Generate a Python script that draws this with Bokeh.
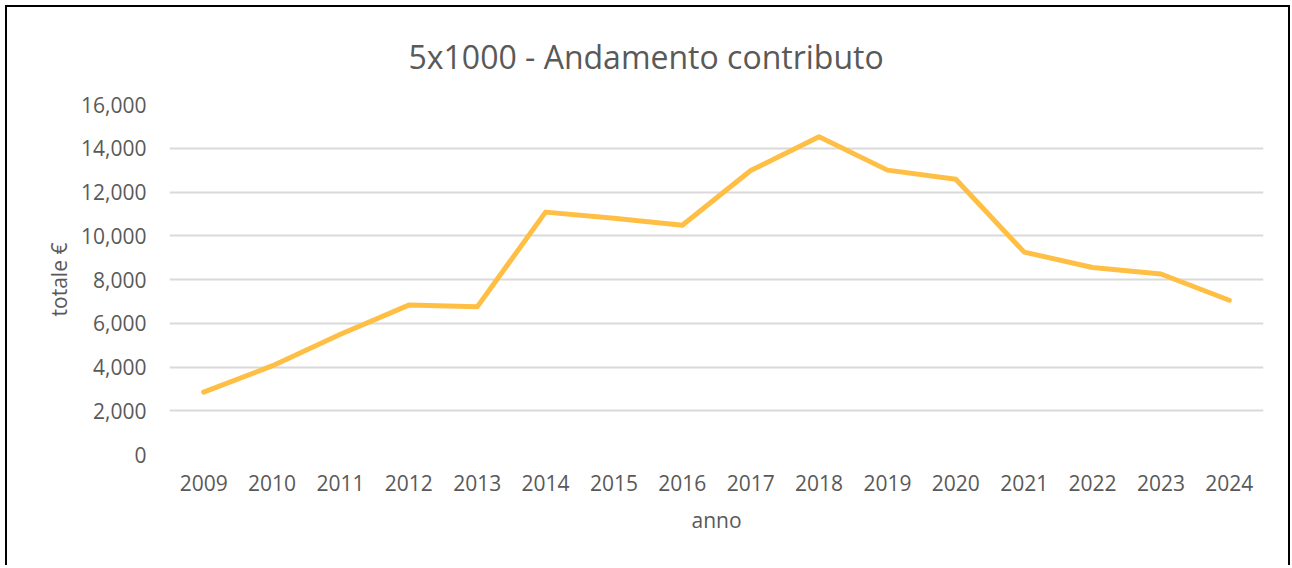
from bokeh.plotting import figure
from bokeh.models import FactorRange, Range1d, NumeralTickFormatter, FixedTicker
from bokeh.embed import file_html
from bokeh.resources import INLINE

years = ["2009", "2010", "2011", "2012", "2013", "2014", "2015", "2016",
         "2017", "2018", "2019", "2020", "2021", "2022", "2023", "2024"]
totals = [2850, 4050, 5500, 6830, 6750, 11080, 10800, 10480,
          12980, 14530, 13000, 12580, 9250, 8550, 8250, 7050]
y_ticks = [0, 2000, 4000, 6000, 8000, 10000, 12000, 14000, 16000]

FONT = "Open Sans"
TXT = "#595959"

p = figure(width=1285, height=560, x_range=FactorRange(*years, range_padding=0),
           y_range=Range1d(0, 16000), output_backend="svg", toolbar_location=None,
           title="5x1000 - Andamento contributo",
           min_border_left=162, min_border_right=29, min_border_top=97, min_border_bottom=113)

p.styles = {"border": "2px solid #000000", "border-bottom": "none",
            "position": "relative", "left": "5px", "top": "5px"}

p.line(years, totals, line_color="#FFBF45", line_width=5, line_join="round", line_cap="round")

p.title.text_font = FONT
p.title.text_font_size = "32px"
p.title.text_font_style = "normal"
p.title.text_color = TXT
p.title.align = "left"
p.title.offset = 239
p.title.vertical_align = "top"
p.title.standoff = 50

p.outline_line_color = None
p.xgrid.grid_line_color = None
p.ygrid.grid_line_color = "#D9D9D9"
p.ygrid.grid_line_width = 2
p.yaxis.ticker = FixedTicker(ticks=y_ticks)
p.yaxis.formatter = NumeralTickFormatter(format="0,0")

for ax in (p.xaxis[0], p.yaxis[0]):
    ax.axis_line_color = None
    ax.major_tick_line_color = None
    ax.minor_tick_line_color = None
    ax.major_tick_out = 0
    ax.major_tick_in = 0
    ax.major_label_text_font = FONT
    ax.major_label_text_font_size = "21px"
    ax.major_label_text_color = TXT
    ax.axis_label_text_font = FONT
    ax.axis_label_text_font_size = "21px"
    ax.axis_label_text_font_style = "normal"
    ax.axis_label_text_color = TXT

p.yaxis.axis_label = "totale €"
p.yaxis.major_label_standoff = 23
p.yaxis.axis_label_standoff = 5
p.xaxis.axis_label = "anno"
p.xaxis.major_label_standoff = 20
p.xaxis.axis_label_standoff = 12
p.xaxis.group_text_font_size = "0px"

open("out.html", "w").write(file_html(p, INLINE))
